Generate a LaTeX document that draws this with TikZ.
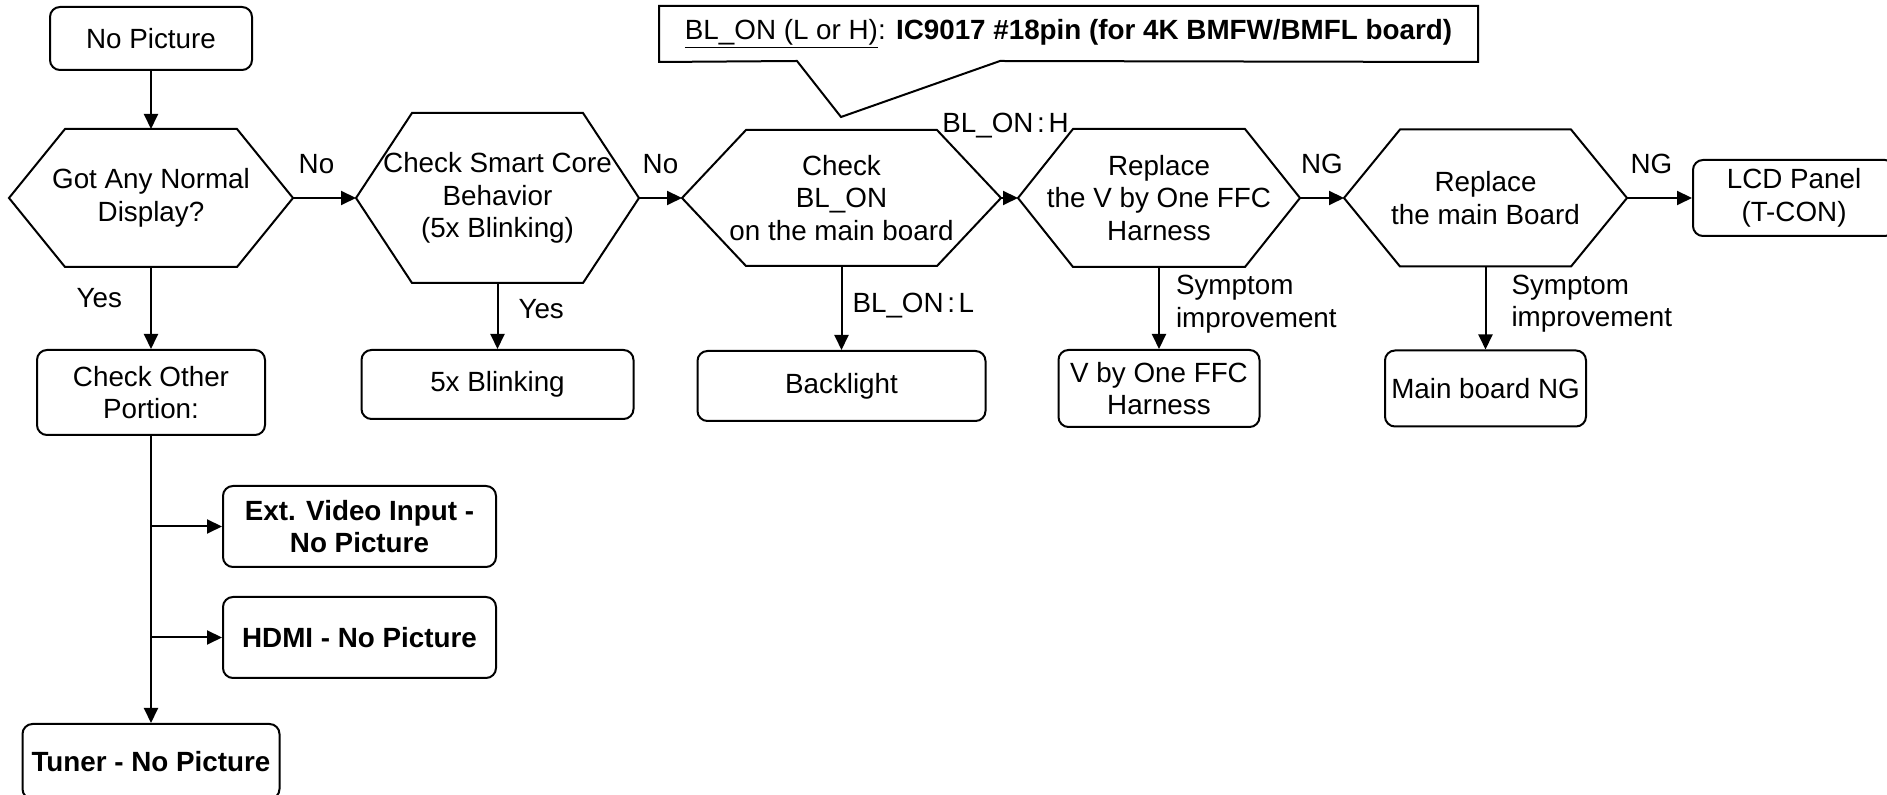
\documentclass[tikz,border=0pt]{standalone}
\usepackage{fontspec}
\setmainfont{Liberation Sans}
\usepackage{tikz}
\usetikzlibrary{arrows.meta,positioning}
\newcommand{\dgfont}{\fontsize{13.9}{16.3}\selectfont}

\begin{document}
\begin{tikzpicture}[
    x=0.5pt,y=-0.5pt,
    font=\dgfont,
    line width=1pt,
    box/.style={draw,rounded corners=5pt,align=center,inner sep=2pt},
    bbox/.style={box,font=\dgfont\bfseries},
    hexa/.style={align=center,inner sep=0pt},
    lbl/.style={inner sep=0pt},
    >={Triangle[length=7.5pt,width=7pt]}
  ]
    \useasboundingbox (0,0) rectangle (1887,795);

    \node[box,minimum width=101pt,minimum height=31.5pt] (start) at (151,38.5) {No Picture};
    \node[hexa,minimum width=141pt,minimum height=68pt,below=29pt of start] (h1) {Got Any Normal\\Display?};
    \node[hexa,minimum width=140.5pt,minimum height=84pt,right=31.5pt of h1] (h2) {Check Smart Core\\Behavior\\(5x Blinking)};
    \node[hexa,minimum width=158.5pt,minimum height=67pt,right=21.5pt of h2] (h3) {Check\\BL\_ON\\on the main board};
    \node[hexa,minimum width=140pt,minimum height=68pt,right=8.5pt of h3] (h4) {Replace\\the V by One FFC\\Harness};
    \node[hexa,minimum width=140.5pt,minimum height=67.5pt,right=22pt of h4] (h5) {Replace\\the main Board};
    \node[box,minimum width=101pt,minimum height=38pt,right=32.5pt of h5] (lcd) {LCD Panel\\(T-CON)};

    \node[box,minimum width=114pt,minimum height=42.5pt,below=41pt of h1] (other) {Check Other\\Portion:};
    \node[box,minimum width=136pt,minimum height=34.5pt,below=33pt of h2] (blink) {5x Blinking};
    \node[box,minimum width=144pt,minimum height=35pt,below=42pt of h3] (back) {Backlight};
    \node[box,minimum width=100.5pt,minimum height=38.5pt,below=41pt of h4] (vbo) {V by One FFC\\Harness};
    \node[box,minimum width=100.5pt,minimum height=38pt,below=41.5pt of h5] (mbng) {Main board NG};

    \node[bbox,minimum width=136.5pt,minimum height=40.5pt] (ext) at (359.5,526.5) {Ext. Video Input -\\No Picture};
    \node[bbox,minimum width=136.5pt,minimum height=40.5pt] (hdmi) at (359.5,637.5) {HDMI - No Picture};
    \node[bbox,minimum width=128.5pt,minimum height=37.5pt,below=143.5pt of other] (tuner) {Tuner - No Picture};

    % hexagon outlines
    \foreach \n/\s in {h1/28pt,h2/28pt,h3/32pt,h4/27.5pt,h5/28pt}
      \draw (\n.west) -- ([xshift=\s]\n.north west) -- ([xshift=-\s]\n.north east) -- (\n.east)
        -- ([xshift=-\s]\n.south east) -- ([xshift=\s]\n.south west) -- cycle;

    % callout
    \node[inner sep=0pt,minimum width=408.5pt,minimum height=27pt] (note) at (1068.5,34)
      {\underline{BL\_ON (L or H)}: \textbf{IC9017 \#18pin (for 4K BMFW/BMFL board)}};
    \coordinate (tip) at (841,117);
    \draw (note.north west) -- (note.north east) -- (note.south east) -- (1000,61) -- (tip)
      -- (797,61) -- (note.south west) -- cycle;

    \draw[->] (start) -- (h1);
    \draw[->] (h1) -- node[lbl,above=11.5pt,text depth=0pt,xshift=-4pt] (no1) {No} (h2);
    \draw[->] (h2) -- node[lbl,above=11.5pt,text depth=0pt] (no2) {No} (h3);
    \draw[->] (h3) -- node[lbl,above=32pt,text depth=0pt,xshift=-2pt] (blh) {BL\_ON\hspace{0.13em}:\hspace{0.13em}H} (h4);
    \draw[->] (h4) -- node[lbl,above=11.5pt,text depth=0pt] (ng1) {NG} (h5);
    \draw[->] (h5) -- node[lbl,above=11.5pt,text depth=0pt,xshift=-4pt] (ng2) {NG} (lcd);

    \draw[->] (h1) -- node[lbl,left=14pt,pos=0.38] (yes1) {Yes} (other);
    \draw[->] (h2) -- node[lbl,right=10pt,pos=0.39] (yes2) {Yes} (blink);
    \draw[->] (h3) -- node[lbl,right=5pt,pos=0.47] (bll) {BL\_ON\hspace{0.13em}:\hspace{0.13em}L} (back);
    \draw[->] (h4) -- node[lbl,right=8pt,pos=0.45,align=left] (sym1) {Symptom\\improvement} (vbo);
    \draw[->] (h5) -- node[lbl,right=12.5pt,pos=0.45,align=left] (sym2) {Symptom\\improvement} (mbng);

    \draw[->] (other) -- (tuner);
    \draw[->] (other.south |- ext) -- (ext);
    \draw[->] (other.south |- hdmi) -- (hdmi);
  \end{tikzpicture}
\end{document}
